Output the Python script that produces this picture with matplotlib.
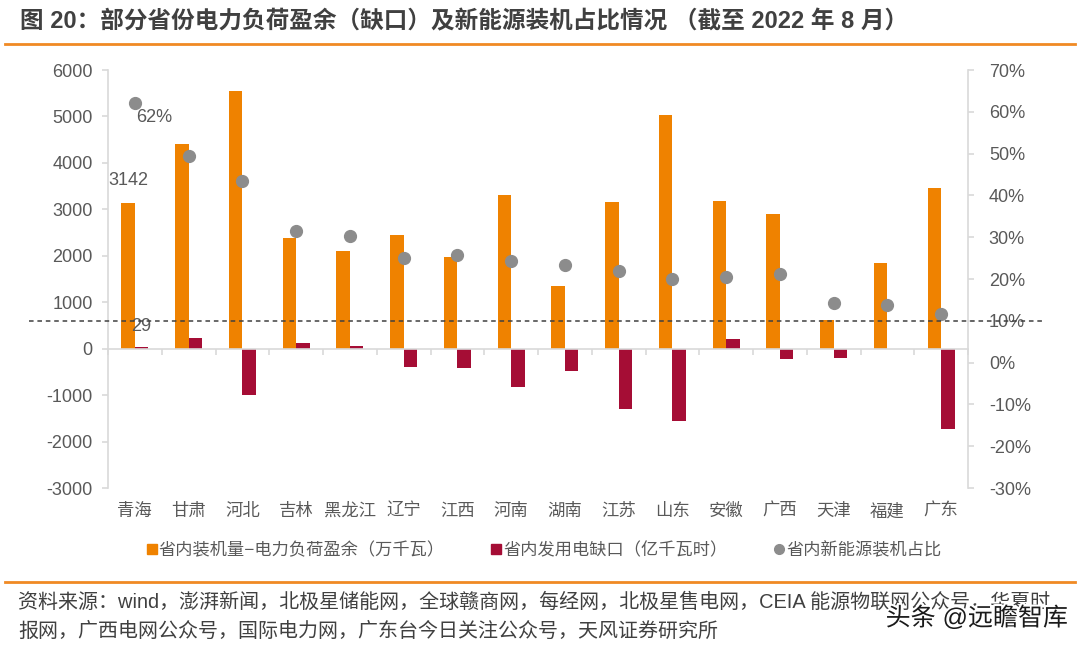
import matplotlib
matplotlib.use("Agg")
import matplotlib.pyplot as plt
import numpy as np
from matplotlib.lines import Line2D
import matplotlib.transforms as mtrans
import matplotlib.patheffects as pe

plt.rcParams['font.family'] = ['Liberation Sans', 'Noto Sans CJK SC']
plt.rcParams['axes.unicode_minus'] = False

provinces = ["青海", "甘肃", "河北", "吉林", "黑龙江", "辽宁", "江西", "河南",
             "湖南", "江苏", "山东", "安徽", "广西", "天津", "福建", "广东"]
surplus = [3142, 4400, 5550, 2380, 2110, 2450, 1970, 3305,
           1350, 3155, 5030, 3170, 2900, 610, 1845, 3460]
gap = [29, 230, -1000, 120, 60, -405, -420, -815,
       -480, -1300, -1560, 200, -215, -195, 0, -1740]
share = [62, 49.4, 43.5, 31.6, 30.3, 25.0, 25.8, 24.2,
         23.4, 22.0, 20.0, 20.5, 21.1, 14.2, 13.8, 11.6]
left_ticks = [-3000, -2000, -1000, 0, 1000, 2000, 3000, 4000, 5000, 6000]
right_ticks = [-30, -20, -10, 0, 10, 20, 30, 40, 50, 60, 70]
threshold = 10

title = "图 20：部分省份电力负荷盈余（缺口）及新能源装机占比情况 （截至 2022 年 8 月）"
legend_labels = ["省内装机量−电力负荷盈余（万千瓦）", "省内发用电缺口（亿千瓦时）", "省内新能源装机占比"]
source1 = "资料来源：wind，澎湃新闻，北极星储能网，全球赣商网，每经网，北极星售电网，CEIA 能源物联网公众号，华夏时"
source2 = "报网，广西电网公众号，国际电力网，广东台今日关注公众号，天风证券研究所"
watermark = "头条 @远瞻智库"

ORANGE = "#EF8200"
RED = "#A50D35"
GRAY = "#8C8C8C"
TXT = "#595959"
SPINE = "#D9D9D9"

W, H = 1080, 649
fig = plt.figure(figsize=(W / 100, H / 100), dpi=100)
ax = fig.add_axes([108 / W, 1 - 488 / H, (968 - 108) / W, (488 - 70) / H])
ax2 = ax.twinx()

x = np.arange(len(provinces))
bw = 0.25
ax.bar(x - bw / 2, surplus, width=bw, color=ORANGE, zorder=2)
ax.bar(x + bw / 2, gap, width=bw, color=RED, zorder=2)
ax2.plot(x, share, 'o', color=GRAY, markersize=8.5, zorder=3)

ax.set_xlim(-0.5, len(provinces) - 0.5)
ax.set_ylim(-3000, 6000)
ax2.set_ylim(-30, 70)
ax.set_yticks(left_ticks)
ax.set_yticklabels([str(v) for v in left_ticks])
ax2.set_yticks(right_ticks)
ax2.set_yticklabels([f"{v}%" for v in right_ticks])

for a in (ax, ax2):
    for s in a.spines.values():
        s.set_color(SPINE)
        s.set_linewidth(1.2)
    a.spines['top'].set_visible(False)
ax.spines['right'].set_visible(False)
ax2.spines['left'].set_visible(False)
ax2.spines['bottom'].set_visible(False)
ax.spines['bottom'].set_position(('data', 0))

ax.tick_params(axis='y', colors=SPINE, labelcolor=TXT, labelsize=13, length=4, width=1.2, pad=7)
ax2.tick_params(axis='y', colors=SPINE, labelcolor=TXT, labelsize=13, length=4, width=1.2, pad=11)
ax.set_xticks(np.arange(len(provinces) + 1) - 0.5)
ax.set_xticklabels([])
ax.tick_params(axis='x', colors=SPINE, length=4, width=1.2, direction='out')

btrans = mtrans.blended_transform_factory(ax.transData, ax.transAxes)
for i, name in enumerate(provinces):
    ax.text(i, -0.055, name, transform=btrans, ha='center', va='center',
            fontsize=12.5, color=TXT)

# data labels
ax.annotate(str(surplus[0]), (x[0] - bw / 2, surplus[0]), xytext=(0, 10),
            textcoords='offset points', ha='center', va='bottom', fontsize=13, color=TXT)
ax.annotate(str(gap[0]), (x[0] + bw / 2, gap[0]), xytext=(0, 9),
            textcoords='offset points', ha='center', va='bottom', fontsize=13, color=TXT)
ax2.annotate(f"{share[0]:g}%", (x[0], share[0]), xytext=(1, -4),
             textcoords='offset points', ha='left', va='top', fontsize=13, color=TXT)

# threshold dashed line
dtrans = mtrans.blended_transform_factory(fig.transFigure, ax2.transData)
fig.add_artist(Line2D([29 / W, 1043 / W], [threshold, threshold], transform=dtrans,
                      color="#404040", linestyle=(0, (3, 2.5)), linewidth=1.1, zorder=5))

# legend
handles = [Line2D([], [], marker='s', linestyle='none', color=ORANGE, markersize=7),
           Line2D([], [], marker='s', linestyle='none', color=RED, markersize=7),
           Line2D([], [], marker='o', linestyle='none', color=GRAY, markersize=7)]
leg = fig.legend(handles, legend_labels, loc='center', bbox_to_anchor=(543 / W, 1 - 550 / H),
                 ncol=3, frameon=False, fontsize=12.4, handletextpad=0.0, columnspacing=2.6,
                 handlelength=0.8)
for t in leg.get_texts():
    t.set_color(TXT)

# title and decorations
fig.text(20 / W, 1 - 22 / H, title, fontsize=17, fontweight='bold', color="#404040",
         ha='left', va='center')
fig.add_artist(Line2D([5 / W, 1075 / W], [1 - 44 / H, 1 - 44 / H], color="#F08A24", linewidth=2))
fig.add_artist(Line2D([5 / W, 1075 / W], [1 - 582 / H, 1 - 582 / H], color="#F08A24", linewidth=2))
fig.text(18 / W, 1 - 602 / H, source1, fontsize=14.4, color="#404040", ha='left', va='center')
fig.text(18 / W, 1 - 631 / H, source2, fontsize=14.4, color="#404040", ha='left', va='center')
fig.text(1068 / W, 1 - 618 / H, watermark, fontsize=18, color="#1a1a1a", ha='right', va='center',
         path_effects=[pe.withStroke(linewidth=3, foreground='white')], zorder=10)

fig.savefig("out.png", dpi=100)
